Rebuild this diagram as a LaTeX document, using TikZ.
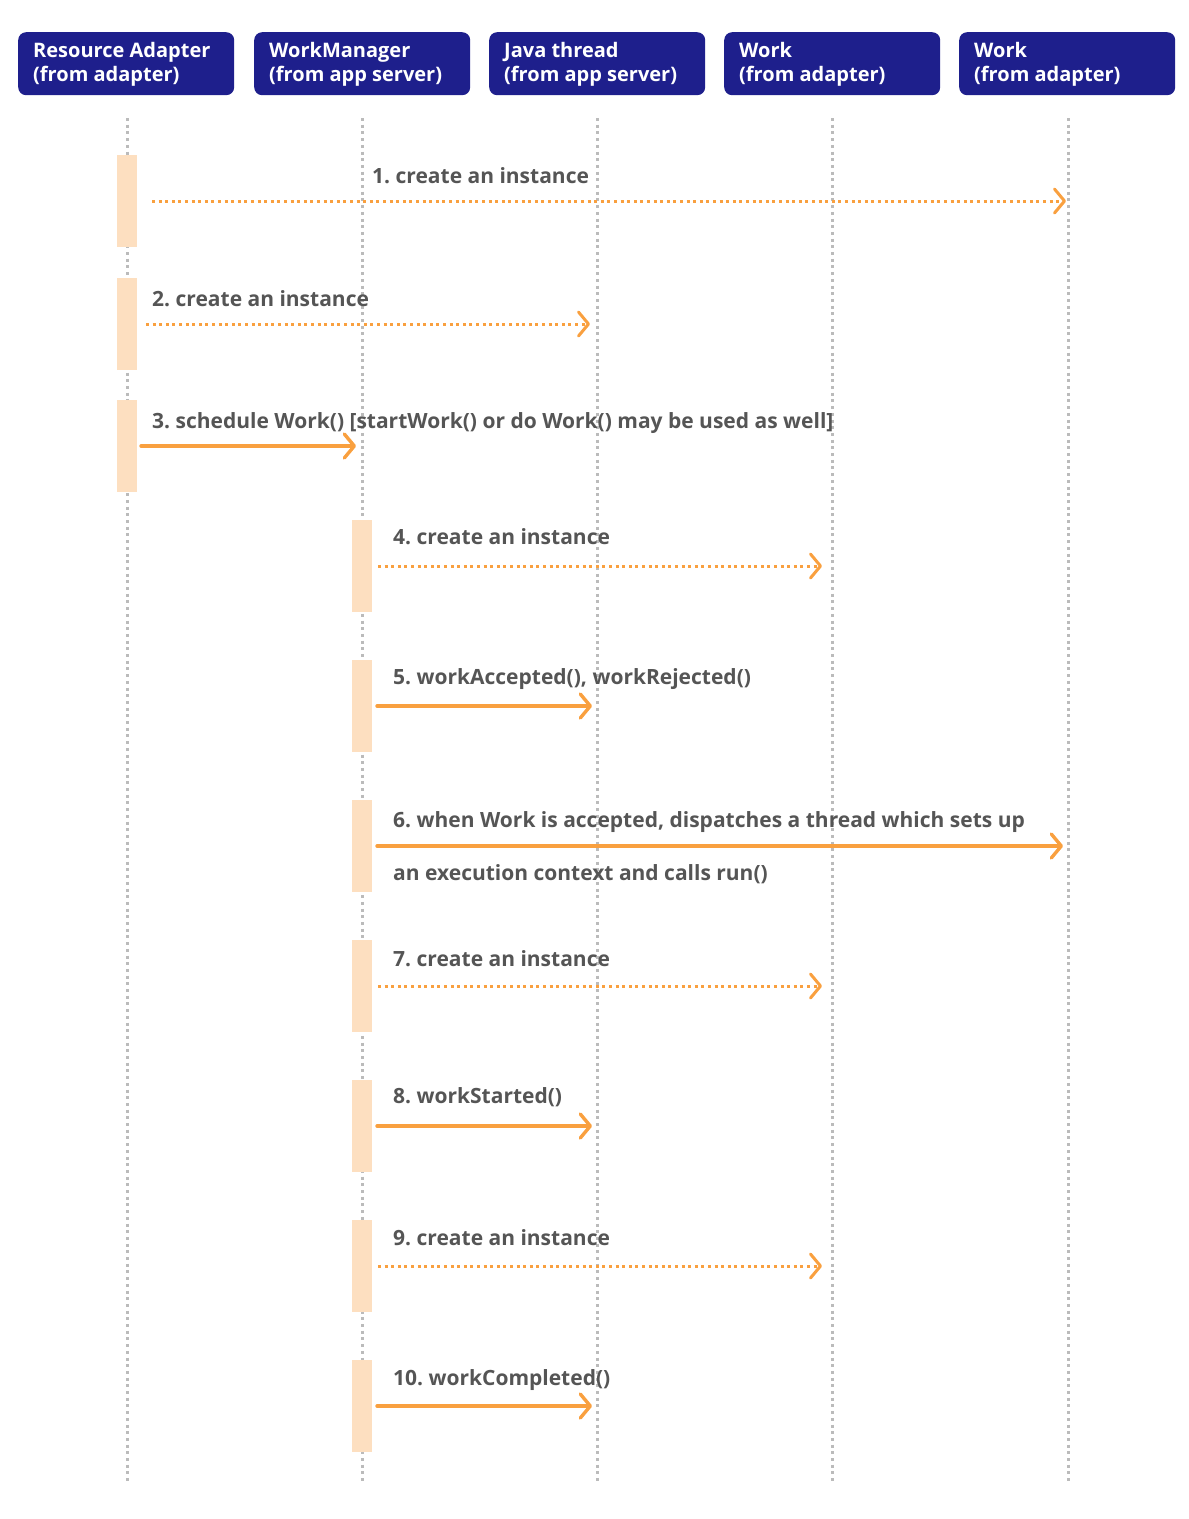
\documentclass[tikz,border=0pt]{standalone}
\usepackage{fontspec}
\setmainfont{Open Sans}
\usetikzlibrary{arrows.meta}
\definecolor{navy}{HTML}{1E1F8C}
\definecolor{orng}{HTML}{F9A03F}
\definecolor{actv}{HTML}{FDDFC0}
\definecolor{lbl}{HTML}{555555}
\definecolor{life}{HTML}{BBBBBB}
\frenchspacing
\begin{document}
\begin{tikzpicture}[x=1pt,y=-1pt,
  head/.style={fill=navy,rounded corners=8pt,minimum width=216pt,minimum height=63pt,anchor=north west,inner sep=0pt},
  headtxt/.style={text=white,font=\fontsize{20}{24}\selectfont\bfseries,align=left,anchor=base west,inner sep=0pt},
  lifeline/.style={draw=life,line width=3pt,dash pattern=on 3pt off 3.7pt},
  bar/.style={fill=actv,minimum width=20pt,minimum height=92pt,inner sep=0pt,anchor=north},
  msg/.style={draw=orng,line width=3.4pt,line cap=round,-{Straight Barb[length=10pt,width=24pt,line cap=round,line join=round]}},
  ret/.style={msg,line width=3pt,dash pattern=on 3pt off 3.6pt,line cap=butt},
  lab/.style={text=lbl,font=\fontsize{21}{26}\selectfont\bfseries,anchor=base west,inner sep=0pt}]
\useasboundingbox (0,0) rectangle (1189,1519);
% headers
\foreach \n/\x/\t in {ra/18/{Resource Adapter\\(from adapter)},wm/254/{WorkManager\\(from app server)},jt/489/{Java thread\\(from app server)},wa/724/{Work\\(from adapter)},wb/959/{Work\\(from adapter)}}{
  \node[head] (\n) at (\x,32) {};
  \node[headtxt] (\n t) at (\x+15,81) {\t};
}
% lifelines
\foreach \n/\x in {ra/127,wm/362,jt/597,wa/832,wb/1068}{
  \coordinate (\n top) at (\x,118);
  \coordinate (\n bot) at (\x,1482);
  \draw[lifeline] (\n top) -- (\n bot);
}
% activation bars
\node[bar] (b1) at (127,155) {};
\node[bar] (b2) at (127,278) {};
\node[bar] (b3) at (127,400) {};
\foreach \i/\y in {4/520,5/660,6/800,7/940,8/1080,9/1220,10/1360}{
  \node[bar] (b\i) at (362,\y) {};
}
% endpoints
\coordinate (s1) at (152,201);  \coordinate (e1) at (1066,201);
\coordinate (s2) at (146,324);  \coordinate (e2) at (590,324);
\coordinate (s3) at (141,446);  \coordinate (e3) at (356,446);
\coordinate (s4) at (378,566);  \coordinate (e4) at (822,566);
\coordinate (s5) at (377,706);  \coordinate (e5) at (592,706);
\coordinate (s6) at (377,846);  \coordinate (e6) at (1063,846);
\coordinate (s7) at (378,986);  \coordinate (e7) at (822,986);
\coordinate (s8) at (377,1126); \coordinate (e8) at (592,1126);
\coordinate (s9) at (378,1266); \coordinate (e9) at (822,1266);
\coordinate (s10) at (377,1406); \coordinate (e10) at (592,1406);
\draw[ret] (s1) -- (e1);
\draw[ret] (s2) -- (e2);
\draw[msg] (s3) -- (e3);
\draw[ret] (s4) -- (e4);
\draw[msg] (s5) -- (e5);
\draw[msg] (s6) -- (e6);
\draw[ret] (s7) -- (e7);
\draw[msg] (s8) -- (e8);
\draw[ret] (s9) -- (e9);
\draw[msg] (s10) -- (e10);
% labels
\node[lab] (l1) at (372,183) {1. create an instance};
\node[lab] (l2) at (152,306) {2. create an instance};
\node[lab] (l3) at (152,428) {3. schedule Work() [startWork() or do Work() may be used as well]};
\node[lab] (l4) at (393,544) {4. create an instance};
\node[lab] (l5) at (393,684) {5. workAccepted(), workRejected()};
\node[lab] (l6a) at (393,827) {6. when Work is accepted, dispatches a thread which sets up};
\node[lab] (l6b) at (393,880) {an execution context and calls run()};
\node[lab] (l7) at (393,966) {7. create an instance};
\node[lab] (l8) at (393,1103) {8. workStarted()};
\node[lab] (l9) at (393,1245) {9. create an instance};
\node[lab] (l10) at (393,1385) {10. workCompleted()};
\end{tikzpicture}
\end{document}
